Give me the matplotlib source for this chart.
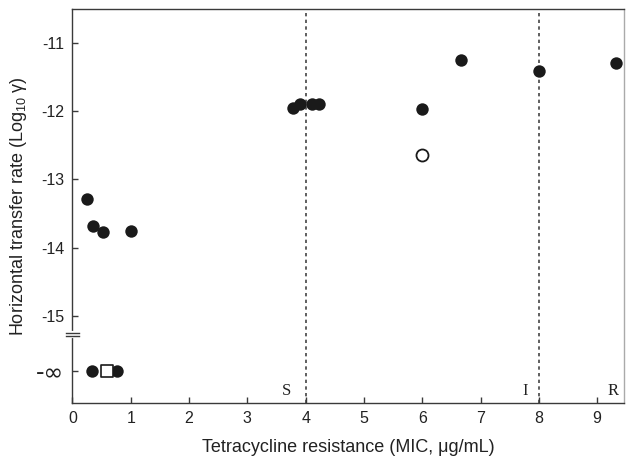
import matplotlib
matplotlib.use("Agg")
import matplotlib.pyplot as plt

plt.rcParams['font.family'] = ['Liberation Sans', 'DejaVu Sans']
plt.rcParams['mathtext.fontset'] = 'custom'
plt.rcParams['mathtext.rm'] = 'Liberation Sans'
plt.rcParams['mathtext.it'] = 'Liberation Sans'

# Data
mic_filled = [0.25, 0.35, 0.52, 1.0, 3.79, 3.91, 4.10, 4.22, 6.0, 6.66, 8.0, 9.33]
rate_filled = [-13.29, -13.69, -13.77, -13.75, -11.96, -11.90, -11.90, -11.90, -11.97, -11.25, -11.41, -11.30]
mic_open = [6.0]
rate_open = [-12.64]
mic_neginf_filled = [0.34, 0.77]
mic_neginf_square = [0.59]
NEG_INF_POS = -15.805  # plotting position for -infinity

yticks = [-11, -12, -13, -14, -15]
xticks = list(range(0, 10))
thresholds = [4, 8]
threshold_labels = [("S", 3.67), ("I", 7.77), ("R", 9.28)]

fig = plt.figure(figsize=(6.26, 4.65), dpi=100)
ax = fig.add_axes([0.1158, 0.1333, 0.881, 0.847])

spine_col = '#3a3a3a'
ax.scatter(mic_filled, rate_filled, s=80, color='#1a1a1a', zorder=3, linewidths=0)
ax.scatter(mic_open, rate_open, s=75, facecolor='white', edgecolor='#1a1a1a', linewidths=1.3, zorder=3)
ax.scatter(mic_neginf_filled, [NEG_INF_POS] * len(mic_neginf_filled), s=80, color='#1a1a1a', zorder=3, linewidths=0)
ax.scatter(mic_neginf_square, [NEG_INF_POS] * len(mic_neginf_square), s=80, marker='s', facecolor='white', edgecolor='#1a1a1a', linewidths=1.2, zorder=4)

for t in thresholds:
    ax.axvline(t, color='#444444', linestyle=(0, (2, 2)), linewidth=1.2, zorder=1)

ax.set_xlim(0, 9.46)
ax.set_ylim(-16.274, -10.511)
ax.set_xticks(xticks)
ax.set_xticklabels([str(v) for v in xticks])
ax.set_yticks(yticks + [NEG_INF_POS])
ax.set_yticklabels([str(v) for v in yticks] + ['-∞'])

ax.tick_params(direction='in', length=4, width=1, colors=spine_col, labelcolor='#222222', labelsize=11.5, pad=6)
for lbl in ax.get_yticklabels()[-1:]:
    lbl.set_fontsize(17)
    lbl.set_family(['DejaVu Sans'])

for side in ['left', 'bottom', 'top']:
    ax.spines[side].set_color(spine_col)
    ax.spines[side].set_linewidth(1.0)
ax.spines['right'].set_color('#aaaaaa')
ax.spines['right'].set_linewidth(1.0)

for lab, xpos in threshold_labels:
    ax.text(xpos, -16.10, lab, family=['Liberation Serif'], fontsize=12, ha='center', va='center', color='#222222')

# axis break marks on left spine
ax.plot([0, 0], [-15.245, -15.30], transform=ax.get_yaxis_transform(), color='white', linewidth=3, clip_on=False, zorder=5)
for yb in [-15.245, -15.30]:
    ax.plot([-0.011, 0.011], [yb, yb], transform=ax.get_yaxis_transform(), color=spine_col, linewidth=1.0, clip_on=False, zorder=6)

ax.set_xlabel('Tetracycline resistance (MIC, μg/mL)', fontsize=13, color='#222222', labelpad=9)
ax.set_ylabel('Horizontal transfer rate (Log$_{10}$ γ)', fontsize=13, color='#222222', labelpad=5)

fig.savefig('out.png', dpi=100)
